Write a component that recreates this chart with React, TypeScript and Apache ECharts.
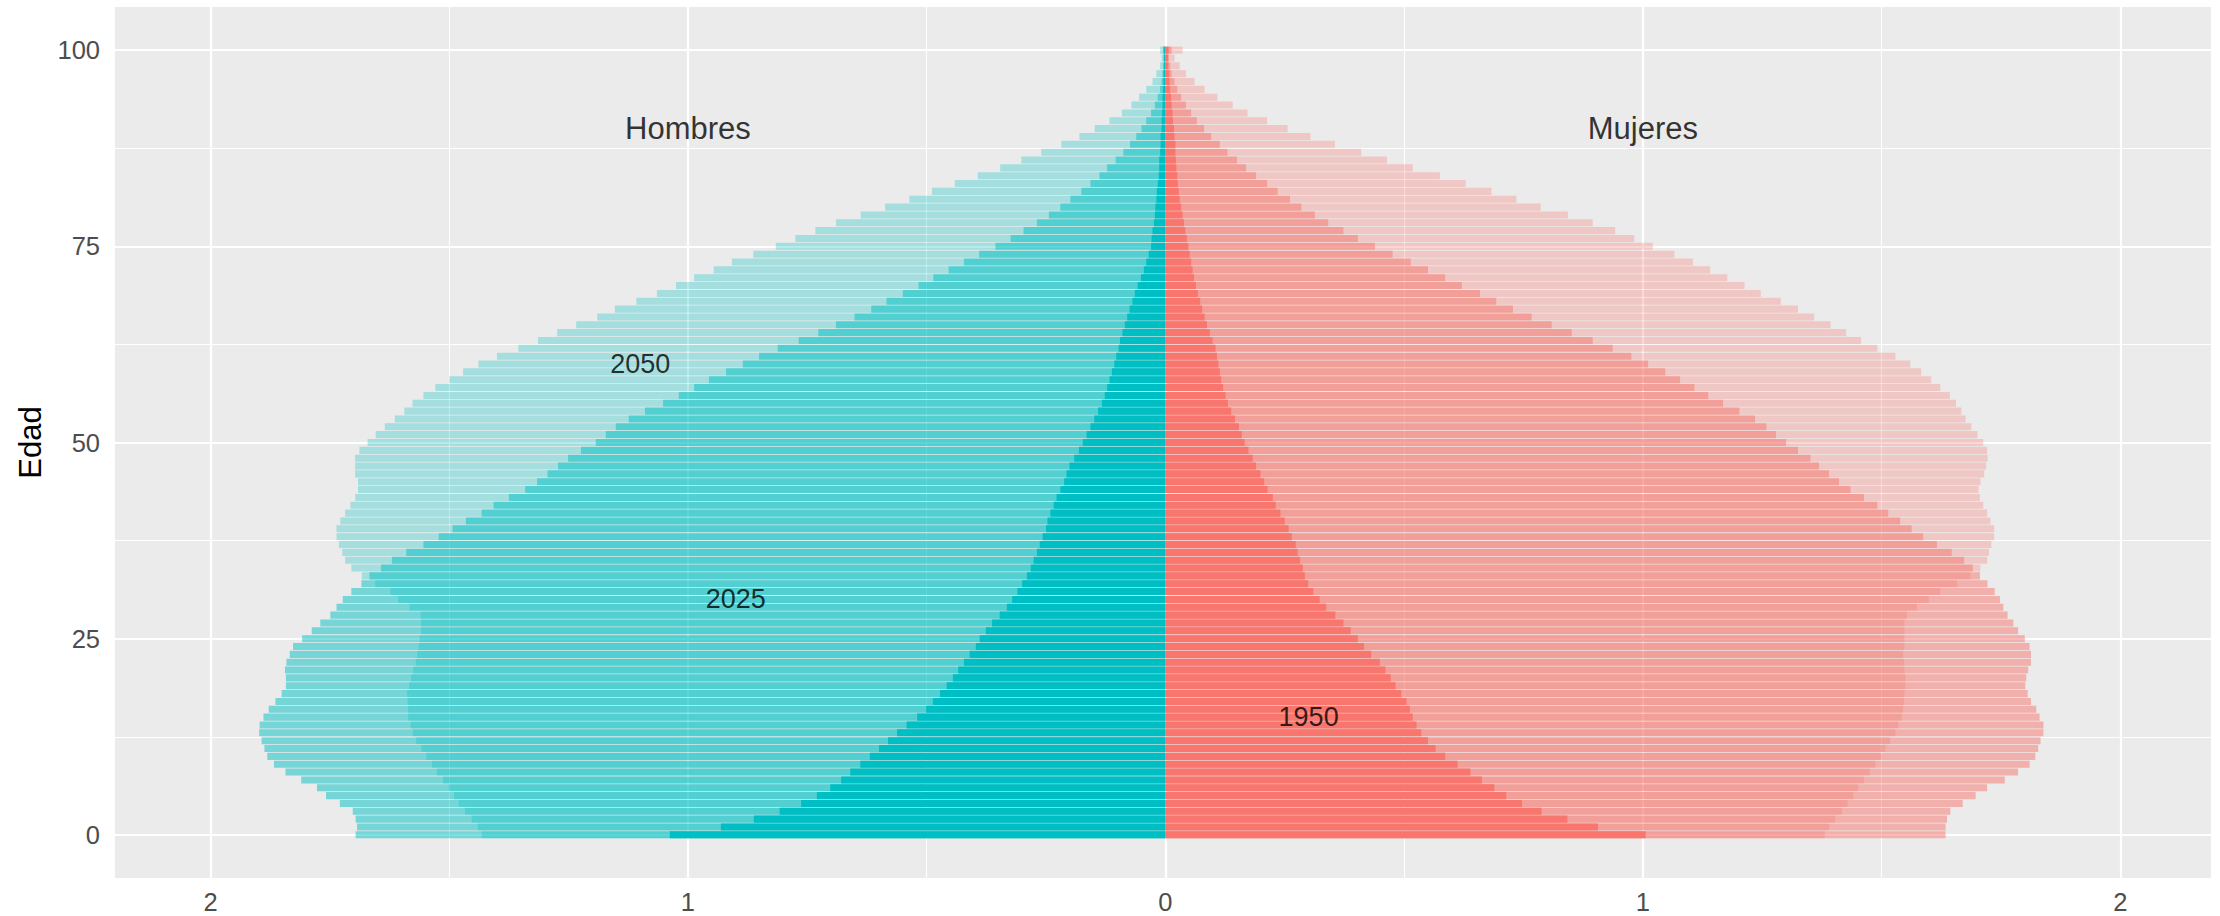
import React, { useEffect, useRef } from "react";
import * as echarts from "echarts";

// ---------- data ----------
const AGES: number[] = Array.from({ length: 101 }, (_, i) => i);
const AXIS_AGES: number[] = Array.from({ length: 111 }, (_, i) => i - 5);

const X_MAJOR = [-2, -1, 0, 1, 2];
const X_MINOR = [-1.5, -0.5, 0.5, 1.5];
const Y_MAJOR = [0, 25, 50, 75, 100];
const Y_MINOR = [12.5, 37.5, 62.5, 87.5];

const MALE_1950 = [
  1.038, 0.931, 0.862, 0.808, 0.763, 0.73, 0.702, 0.679, 0.66, 0.639,
  0.619, 0.6, 0.581, 0.562, 0.542, 0.52, 0.501, 0.487, 0.472, 0.458,
  0.445, 0.434, 0.422, 0.41, 0.397, 0.389, 0.376, 0.363, 0.347, 0.332,
  0.321, 0.31, 0.3, 0.29, 0.282, 0.276, 0.269, 0.263, 0.257, 0.25,
  0.247, 0.241, 0.234, 0.228, 0.22, 0.212, 0.207, 0.201, 0.191, 0.181,
  0.173, 0.165, 0.157, 0.149, 0.141, 0.133, 0.127, 0.122, 0.117, 0.112,
  0.107, 0.103, 0.098, 0.095, 0.09, 0.085, 0.08, 0.075, 0.069, 0.064,
  0.058, 0.051, 0.045, 0.04, 0.035, 0.03, 0.029, 0.027, 0.024, 0.022,
  0.021, 0.019, 0.018, 0.016, 0.014, 0.013, 0.013, 0.011, 0.01, 0.01,
  0.008, 0.008, 0.007, 0.006, 0.006, 0.005, 0.004, 0.004, 0.003, 0.003, 0.004,
];

const MALE_2025 = [
  1.696, 1.693, 1.696, 1.702, 1.729, 1.758, 1.777, 1.81, 1.843, 1.867,
  1.881, 1.887, 1.893, 1.898, 1.897, 1.889, 1.878, 1.864, 1.851, 1.842,
  1.842, 1.844, 1.841, 1.834, 1.827, 1.808, 1.788, 1.77, 1.749, 1.736,
  1.723, 1.705, 1.684, 1.667, 1.643, 1.62, 1.59, 1.554, 1.522, 1.493,
  1.465, 1.432, 1.407, 1.375, 1.341, 1.316, 1.294, 1.272, 1.251, 1.224,
  1.193, 1.172, 1.151, 1.124, 1.09, 1.052, 1.019, 0.987, 0.956, 0.92,
  0.885, 0.851, 0.812, 0.768, 0.727, 0.69, 0.651, 0.616, 0.584, 0.55,
  0.517, 0.486, 0.454, 0.422, 0.39, 0.356, 0.324, 0.297, 0.269, 0.244,
  0.22, 0.199, 0.176, 0.157, 0.138, 0.122, 0.104, 0.088, 0.074, 0.061,
  0.05, 0.04, 0.03, 0.022, 0.016, 0.011, 0.008, 0.006, 0.005, 0.004, 0.004,
];

const MALE_2050 = [
  1.432, 1.44, 1.453, 1.467, 1.48, 1.49, 1.501, 1.513, 1.526, 1.536,
  1.548, 1.558, 1.569, 1.576, 1.581, 1.586, 1.586, 1.587, 1.588, 1.584,
  1.58, 1.575, 1.57, 1.567, 1.564, 1.562, 1.559, 1.559, 1.56, 1.583,
  1.607, 1.623, 1.655, 1.683, 1.705, 1.718, 1.724, 1.731, 1.736, 1.736,
  1.728, 1.718, 1.707, 1.697, 1.691, 1.691, 1.697, 1.697, 1.697, 1.688,
  1.671, 1.654, 1.635, 1.614, 1.594, 1.577, 1.554, 1.529, 1.5, 1.471,
  1.439, 1.4, 1.355, 1.314, 1.274, 1.234, 1.19, 1.153, 1.108, 1.065,
  1.025, 0.987, 0.946, 0.908, 0.863, 0.816, 0.775, 0.733, 0.69, 0.638,
  0.587, 0.536, 0.489, 0.441, 0.393, 0.346, 0.302, 0.26, 0.218, 0.18,
  0.148, 0.117, 0.091, 0.071, 0.055, 0.04, 0.027, 0.019, 0.011, 0.008, 0.011,
];

const FEMALE_1950 = [
  1.006, 0.906, 0.842, 0.788, 0.747, 0.714, 0.689, 0.663, 0.639, 0.612,
  0.586, 0.566, 0.55, 0.536, 0.526, 0.518, 0.512, 0.505, 0.494, 0.482,
  0.472, 0.461, 0.449, 0.431, 0.416, 0.403, 0.388, 0.373, 0.356, 0.337,
  0.323, 0.31, 0.299, 0.292, 0.288, 0.282, 0.277, 0.273, 0.265, 0.258,
  0.25, 0.241, 0.231, 0.225, 0.214, 0.207, 0.199, 0.19, 0.183, 0.174,
  0.166, 0.16, 0.154, 0.146, 0.138, 0.131, 0.126, 0.121, 0.117, 0.114,
  0.111, 0.108, 0.105, 0.099, 0.093, 0.087, 0.082, 0.077, 0.073, 0.068,
  0.064, 0.06, 0.057, 0.054, 0.051, 0.048, 0.045, 0.042, 0.039, 0.036,
  0.033, 0.03, 0.028, 0.026, 0.025, 0.023, 0.022, 0.021, 0.021, 0.019,
  0.018, 0.016, 0.015, 0.013, 0.012, 0.01, 0.009, 0.008, 0.006, 0.006, 0.007,
];

const FEMALE_2025 = [
  1.634, 1.634, 1.637, 1.644, 1.67, 1.697, 1.721, 1.758, 1.786, 1.81,
  1.822, 1.828, 1.833, 1.839, 1.839, 1.831, 1.824, 1.813, 1.806, 1.801,
  1.803, 1.807, 1.813, 1.813, 1.81, 1.8, 1.786, 1.776, 1.764, 1.755,
  1.748, 1.737, 1.722, 1.706, 1.691, 1.673, 1.647, 1.616, 1.587, 1.563,
  1.539, 1.514, 1.491, 1.463, 1.435, 1.411, 1.39, 1.369, 1.351, 1.325,
  1.3, 1.279, 1.259, 1.235, 1.202, 1.168, 1.137, 1.108, 1.078, 1.047,
  1.011, 0.976, 0.937, 0.895, 0.851, 0.809, 0.767, 0.728, 0.693, 0.659,
  0.621, 0.586, 0.55, 0.514, 0.476, 0.439, 0.403, 0.373, 0.341, 0.313,
  0.285, 0.261, 0.235, 0.213, 0.19, 0.169, 0.15, 0.13, 0.114, 0.096,
  0.081, 0.066, 0.054, 0.043, 0.033, 0.025, 0.019, 0.013, 0.01, 0.007, 0.013,
];

const FEMALE_2050 = [
  1.381, 1.39, 1.403, 1.417, 1.429, 1.441, 1.451, 1.463, 1.475, 1.487,
  1.499, 1.508, 1.518, 1.529, 1.535, 1.542, 1.545, 1.547, 1.548, 1.55,
  1.55, 1.548, 1.547, 1.545, 1.548, 1.548, 1.548, 1.548, 1.553, 1.574,
  1.599, 1.623, 1.658, 1.686, 1.707, 1.721, 1.725, 1.73, 1.736, 1.736,
  1.728, 1.721, 1.713, 1.706, 1.703, 1.707, 1.715, 1.719, 1.722, 1.721,
  1.713, 1.701, 1.688, 1.676, 1.667, 1.656, 1.643, 1.623, 1.604, 1.583,
  1.56, 1.529, 1.491, 1.457, 1.426, 1.393, 1.359, 1.325, 1.289, 1.247,
  1.213, 1.177, 1.141, 1.105, 1.066, 1.021, 0.982, 0.942, 0.895, 0.843,
  0.786, 0.735, 0.683, 0.629, 0.575, 0.518, 0.464, 0.41, 0.355, 0.304,
  0.256, 0.213, 0.172, 0.141, 0.109, 0.082, 0.061, 0.043, 0.03, 0.019, 0.036,
];

const SEX_LABELS = ["Hombres", "Mujeres"];
const SEX_LABEL_X = [-1, 1];
const SEX_LABEL_Y = [90, 90];

const YEAR_LABELS = ["2050", "2025", "1950"];
const YEAR_LABEL_X = [-1.1, -0.9, 0.3];
const YEAR_LABEL_Y = [60, 30, 15];

// ---------- styling ----------
const FONT = "'Liberation Sans', Arial, Helvetica, sans-serif";
const MALE_COLOR = "#00BFC4";
const FEMALE_COLOR = "#F8766D";
const YEAR_ALPHA: Record<string, number> = { "2050": 0.3, "2025": 0.5, "1950": 1 };

function barSeries(name: string, values: number[], sign: number, color: string, alpha: number) {
  return {
    name,
    type: "bar",
    xAxisIndex: 0,
    yAxisIndex: 0,
    barWidth: "90%",
    barGap: "-100%",
    z: 3,
    silent: true,
    itemStyle: { color, opacity: alpha },
    data: AXIS_AGES.map((a) => (a >= 0 && a <= 100 ? sign * values[AGES.indexOf(a)] : "-")),
  };
}

export default function App() {
  const ref = useRef<HTMLDivElement>(null);

  useEffect(() => {
    if (!ref.current) return;
    const chart = echarts.init(ref.current, undefined, { renderer: "svg" });

    const gridLines = [
      ...X_MAJOR.map((v) => ({ xAxis: v, lineStyle: { width: 2.2 } })),
      ...X_MINOR.map((v) => ({ xAxis: v, lineStyle: { width: 1.1 } })),
      ...Y_MAJOR.map((v) => ({ yAxis: v, lineStyle: { width: 2.2 } })),
      ...Y_MINOR.map((v) => ({ yAxis: v, lineStyle: { width: 1.1 } })),
    ];

    const option: any = {
      animation: false,
      grid: {
        left: 115,
        right: 9,
        top: 7,
        bottom: 38,
        show: true,
        backgroundColor: "#EBEBEB",
        borderWidth: 0,
        containLabel: false,
        outerBoundsMode: "none",
      },
      xAxis: [
        {
          type: "value",
          min: -2.2,
          max: 2.19,
          axisLine: { show: false },
          splitLine: { show: false },
          axisTick: {
            show: true,
            customValues: X_MAJOR,
            length: 8,
            lineStyle: { color: "#333333", width: 2 },
          },
          axisLabel: {
            show: true,
            customValues: X_MAJOR,
            margin: 12,
            fontSize: 25.5,
            lineHeight: 24,
            color: "#4D4D4D",
            fontFamily: FONT,
            formatter: (v: number) => String(Math.abs(v)),
          },
        },
      ],
      yAxis: [
        {
          type: "category",
          data: AXIS_AGES.map(String),
          boundaryGap: true,
          axisLine: { show: false },
          splitLine: { show: false },
          axisTick: {
            show: true,
            alignWithLabel: true,
            interval: (_i: number, v: string) => Y_MAJOR.includes(Number(v)),
            length: 8,
            lineStyle: { color: "#333333", width: 2 },
          },
          axisLabel: {
            show: true,
            interval: (_i: number, v: string) => Y_MAJOR.includes(Number(v)),
            margin: 15,
            fontSize: 25.5,
            color: "#4D4D4D",
            fontFamily: FONT,
          },
          name: "Edad",
          nameLocation: "middle",
          nameRotate: 90,
          nameGap: 69,
          nameTextStyle: { fontSize: 31, color: "#000000", fontFamily: FONT },
        },
        {
          type: "value",
          min: -5.5,
          max: 105.5,
          show: false,
          splitLine: { show: false },
        },
      ],
      series: [
        {
          type: "scatter",
          name: "grid",
          xAxisIndex: 0,
          yAxisIndex: 1,
          data: [],
          silent: true,
          z: 1,
          markLine: {
            silent: true,
            z: 1,
            symbol: ["none", "none"],
            label: { show: false },
            lineStyle: { color: "#FFFFFF", type: "solid", width: 2.2 },
            data: gridLines,
          },
        },
        barSeries("Hombres 2050", MALE_2050, -1, MALE_COLOR, YEAR_ALPHA["2050"]),
        barSeries("Hombres 2025", MALE_2025, -1, MALE_COLOR, YEAR_ALPHA["2025"]),
        barSeries("Hombres 1950", MALE_1950, -1, MALE_COLOR, YEAR_ALPHA["1950"]),
        barSeries("Mujeres 2050", FEMALE_2050, 1, FEMALE_COLOR, YEAR_ALPHA["2050"]),
        barSeries("Mujeres 2025", FEMALE_2025, 1, FEMALE_COLOR, YEAR_ALPHA["2025"]),
        barSeries("Mujeres 1950", FEMALE_1950, 1, FEMALE_COLOR, YEAR_ALPHA["1950"]),
        {
          type: "scatter",
          name: "sexLabels",
          xAxisIndex: 0,
          yAxisIndex: 1,
          symbolSize: 0,
          silent: true,
          z: 10,
          label: {
            show: true,
            position: "inside",
            formatter: "{b}",
            fontSize: 31,
            color: "#000000",
            fontFamily: FONT,
          },
          data: SEX_LABELS.map((n, i) => ({ name: n, value: [SEX_LABEL_X[i], SEX_LABEL_Y[i]] })),
        },
        {
          type: "scatter",
          name: "yearLabels",
          xAxisIndex: 0,
          yAxisIndex: 1,
          symbolSize: 0,
          silent: true,
          z: 10,
          label: {
            show: true,
            position: "inside",
            formatter: "{b}",
            fontSize: 27,
            color: "#000000",
            fontFamily: FONT,
          },
          data: YEAR_LABELS.map((n, i) => ({ name: n, value: [YEAR_LABEL_X[i], YEAR_LABEL_Y[i]] })),
        },
      ],
    };

    chart.setOption(option);
    return () => chart.dispose();
  }, []);

  return (
    <div
      ref={ref}
      style={{ position: "absolute", left: 0, top: 0, width: 2220, height: 916, background: "#FFFFFF" }}
    />
  );
}
